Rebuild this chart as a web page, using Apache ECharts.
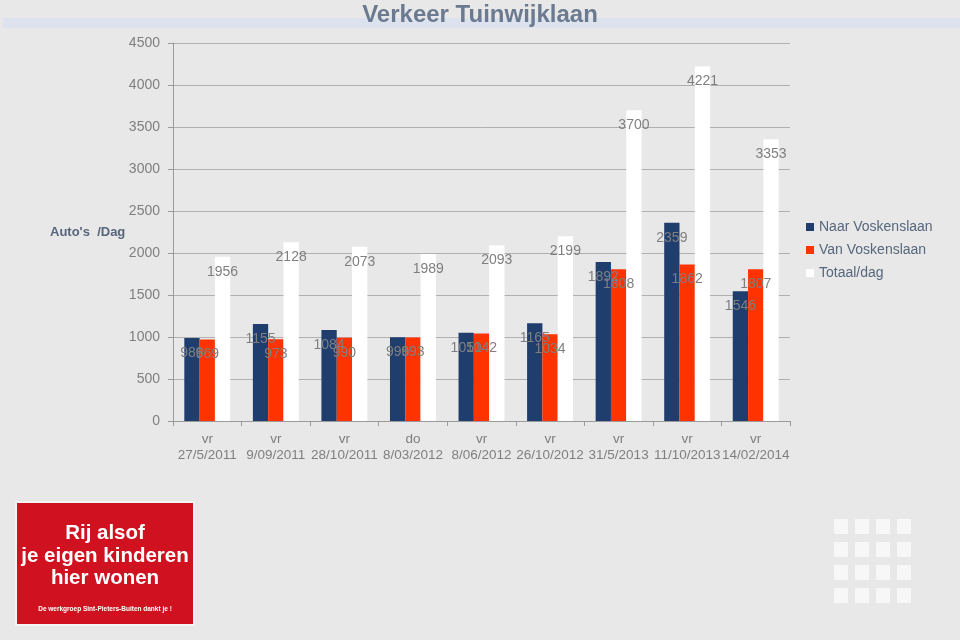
<!DOCTYPE html>
<html>
<head>
<meta charset="utf-8">
<script src="https://cdn.jsdelivr.net/npm/echarts@6/dist/echarts.min.js"></script>
<style>
  html, body { margin: 0; padding: 0; background: #e8e8e8; }
  #chart { width: 960px; height: 640px; }
</style>
</head>
<body>
<div id="chart"></div>
<script>
// gegevens per meetdag
const dagen = ['vr\n27/5/2011', 'vr\n9/09/2011', 'vr\n28/10/2011', 'do\n8/03/2012',
  'vr\n8/06/2012', 'vr\n26/10/2012', 'vr\n31/5/2013', 'vr\n11/10/2013', 'vr\n14/02/2014'];
const naarVoskenslaan = [988, 1155, 1084, 996, 1051, 1165, 1892, 2359, 1546];
const vanVoskenslaan = [969, 973, 990, 993, 1042, 1034, 1808, 1862, 1807];
const totaalDag = [1956, 2128, 2073, 1989, 2093, 2199, 3700, 4221, 3353];

const font = 'Liberation Sans, Arial, sans-serif';
const labelStyle = {
  show: true,
  position: 'insideTop',
  distance: 8,
  color: '#7f7f7f',
  fontSize: 14,
  fontFamily: font
};

let myChart = echarts.init(document.getElementById('chart'));

// kleine vierkantjes rechtsonder
const vierkantjes = [];
for (let r = 0; r < 4; r++) {
  for (let c = 0; c < 4; c++) {
    vierkantjes.push({
      type: 'rect',
      shape: { x: 834 + c * 21, y: 519 + r * 23, width: 14, height: 15 },
      style: { fill: '#f7f7f7' }
    });
  }
}

let option = {
  backgroundColor: '#e8e8e8',
  animation: false,
  title: {
    text: 'Verkeer Tuinwijklaan',
    left: 'center',
    top: -2,
    textStyle: { color: '#6b7a90', fontSize: 24, fontWeight: 'bold', fontFamily: font }
  },
  legend: {
    orient: 'vertical',
    left: 801,
    top: 215,
    itemWidth: 8,
    itemHeight: 8,
    itemGap: 9,
    icon: 'rect',
    textStyle: { color: '#56667c', fontSize: 14, fontFamily: font }
  },
  grid: { left: 173, right: 170, top: 43, bottom: 219 },
  xAxis: {
    type: 'category',
    data: dagen,
    axisLine: { lineStyle: { color: '#9a9a9a' } },
    axisTick: { show: true, length: 5, lineStyle: { color: '#9a9a9a' } },
    axisLabel: { color: '#7f7f7f', fontSize: 13.5, lineHeight: 16, fontFamily: font, margin: 10, interval: 0 }
  },
  yAxis: {
    type: 'value',
    min: 0,
    max: 4500,
    interval: 500,
    axisLine: { show: true, lineStyle: { color: '#9a9a9a' } },
    axisTick: { show: true, length: 5, lineStyle: { color: '#9a9a9a' } },
    axisLabel: { color: '#7f7f7f', fontSize: 14, fontFamily: font, margin: 13, formatter: v => String(v) },
    splitLine: { lineStyle: { color: '#b0b0b0' } }
  },
  series: [
    {
      name: 'Naar Voskenslaan',
      type: 'bar',
      data: naarVoskenslaan,
      itemStyle: { color: '#1f3e6e' },
      barGap: '0%',
      barCategoryGap: '33%',
      label: labelStyle
    },
    {
      name: 'Van Voskenslaan',
      type: 'bar',
      data: vanVoskenslaan,
      itemStyle: { color: '#ff3300' },
      label: labelStyle
    },
    {
      name: 'Totaal/dag',
      type: 'bar',
      data: totaalDag,
      itemStyle: { color: '#ffffff' },
      label: labelStyle
    }
  ],
  graphic: [
    {
      type: 'rect',
      z: -1,
      shape: { x: 3, y: 18, width: 957, height: 10 },
      style: { fill: '#dde3ee' }
    },
    {
      type: 'text',
      left: 50,
      top: 226,
      style: { text: "Auto's  /Dag", fill: '#56667c', font: 'bold 13px ' + font }
    },
    {
      type: 'rect',
      shape: { x: 16, y: 502, width: 178, height: 123 },
      style: { fill: '#cf1120', stroke: '#f4f4f4', lineWidth: 2 }
    },
    {
      type: 'text',
      x: 105, y: 533,
      style: { text: 'Rij alsof', fill: '#ffffff', font: 'bold 20.5px ' + font, textAlign: 'center', textVerticalAlign: 'middle' }
    },
    {
      type: 'text',
      x: 105, y: 556,
      style: { text: 'je eigen kinderen', fill: '#ffffff', font: 'bold 20.5px ' + font, textAlign: 'center', textVerticalAlign: 'middle' }
    },
    {
      type: 'text',
      x: 105, y: 578,
      style: { text: 'hier wonen', fill: '#ffffff', font: 'bold 20.5px ' + font, textAlign: 'center', textVerticalAlign: 'middle' }
    },
    {
      type: 'text',
      x: 105, y: 609,
      style: { text: 'De werkgroep Sint-Pieters-Buiten dankt je !', fill: '#ffffff', font: 'bold 6.5px ' + font, textAlign: 'center', textVerticalAlign: 'middle' }
    }
  ].concat(vierkantjes)
};

myChart.setOption(option);
</script>
</body>
</html>
